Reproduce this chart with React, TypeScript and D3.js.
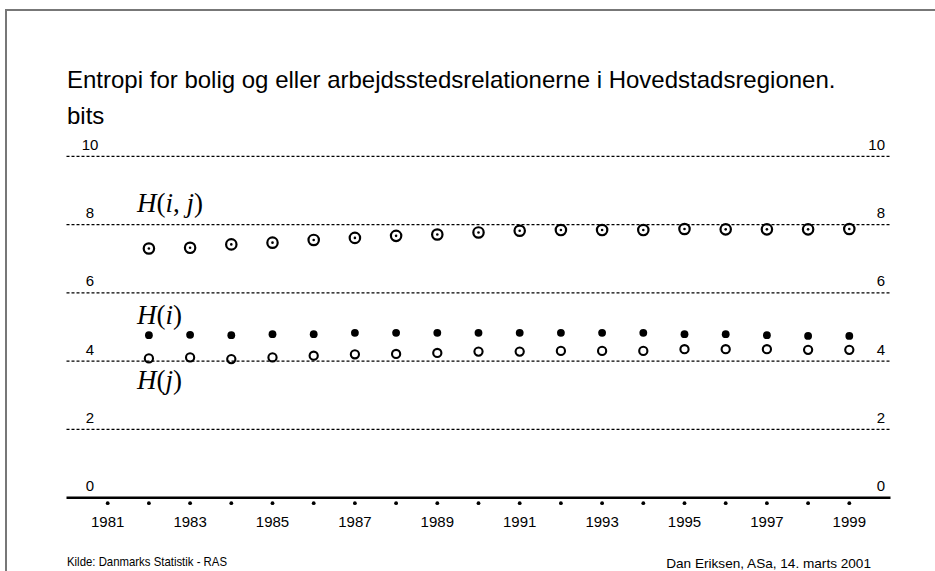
import React, { useEffect, useRef } from "react";
import * as d3 from "d3";

const years = [1982, 1983, 1984, 1985, 1986, 1987, 1988, 1989, 1990, 1991, 1992, 1993, 1994, 1995, 1996, 1997, 1998, 1999];
const hij = [7.30, 7.32, 7.42, 7.47, 7.55, 7.61, 7.67, 7.71, 7.77, 7.82, 7.84, 7.84, 7.84, 7.87, 7.86, 7.86, 7.86, 7.87];
const hi = [4.76, 4.77, 4.76, 4.79, 4.79, 4.83, 4.83, 4.83, 4.83, 4.83, 4.83, 4.83, 4.83, 4.79, 4.79, 4.76, 4.74, 4.74];
const hj = [4.08, 4.11, 4.06, 4.11, 4.16, 4.20, 4.21, 4.24, 4.28, 4.28, 4.30, 4.30, 4.30, 4.35, 4.35, 4.35, 4.33, 4.33];
const yTicks = [0, 2, 4, 6, 8, 10];
const xTickYears = [1981, 1982, 1983, 1984, 1985, 1986, 1987, 1988, 1989, 1990, 1991, 1992, 1993, 1994, 1995, 1996, 1997, 1998, 1999];
const xLabelYears = [1981, 1983, 1985, 1987, 1989, 1991, 1993, 1995, 1997, 1999];

const title = "Entropi for bolig og eller arbejdsstedsrelationerne i Hovedstadsregionen.";
const unit = "bits";
const source = "Kilde: Danmarks Statistik - RAS";
const author = "Dan Eriksen, ASa, 14. marts 2001";

export default function App() {
  const ref = useRef<SVGSVGElement>(null);
  useEffect(() => {
    const svg = d3.select(ref.current);
    svg.selectAll("*").remove();
    const W = 935, H = 571;
    const x = d3.scaleLinear().domain([1980, 2000]).range([66.5, 890.5]);
    const y = d3.scaleLinear().domain([0, 10]).range([497.7, 156.3]);
    const sans = "'Liberation Sans', Arial, sans-serif";
    const serif = "'Liberation Serif', 'DejaVu Serif', serif";

    svg.append("rect").attr("width", W).attr("height", H).attr("fill", "#fff");
    svg.append("rect").attr("x", 6).attr("y", 10).attr("width", 1000).attr("height", 1000)
      .attr("fill", "none").attr("stroke", "#777").attr("stroke-width", 2);

    svg.append("text").attr("x", 67).attr("y", 88).attr("font-family", sans).attr("font-size", 24)
      .attr("fill", "#000").text(title);
    svg.append("text").attr("x", 67).attr("y", 124).attr("font-family", sans).attr("font-size", 24)
      .attr("fill", "#000").text(unit);

    // grid lines
    const [x0, x1] = x.range();
    svg.append("g").selectAll("line").data(yTicks.filter(d => d !== 0)).join("line")
      .attr("x1", x0).attr("x2", x1).attr("y1", d => y(d)).attr("y2", d => y(d))
      .attr("stroke", "#000").attr("stroke-width", 1.2).attr("stroke-dasharray", "3,2");
    svg.append("line").attr("x1", x0).attr("x2", x1).attr("y1", y(0)).attr("y2", y(0))
      .attr("stroke", "#000").attr("stroke-width", 2.5);

    // y labels
    svg.append("g").selectAll("text").data(yTicks).join("text")
      .attr("x", 90).attr("y", d => y(d) - 6.5).attr("text-anchor", "middle")
      .attr("font-family", sans).attr("font-size", 15).text(d => String(d));
    svg.append("g").selectAll("text").data(yTicks).join("text")
      .attr("x", 885).attr("y", d => y(d) - 6.5).attr("text-anchor", "end")
      .attr("font-family", sans).attr("font-size", 15).text(d => String(d));

    // x ticks
    svg.append("g").selectAll("circle").data(xTickYears).join("circle")
      .attr("cx", d => x(d)).attr("cy", y(0) + 5.5).attr("r", 1.9).attr("fill", "#000");
    svg.append("g").selectAll("text").data(xLabelYears).join("text")
      .attr("x", d => x(d)).attr("y", y(0) + 29).attr("text-anchor", "middle")
      .attr("font-family", sans).attr("font-size", 15).text(d => String(d));

    // H(i,j)
    const g1 = svg.append("g");
    g1.selectAll("circle.ring").data(years).join("circle").attr("class", "ring")
      .attr("cx", d => x(d)).attr("cy", (d, i) => y(hij[i])).attr("r", 5.2)
      .attr("fill", "none").attr("stroke", "#000").attr("stroke-width", 2.2);
    g1.selectAll("circle.dot").data(years).join("circle").attr("class", "dot")
      .attr("cx", d => x(d)).attr("cy", (d, i) => y(hij[i])).attr("r", 1.3).attr("fill", "#000");
    // H(i)
    svg.append("g").selectAll("circle").data(years).join("circle")
      .attr("cx", d => x(d)).attr("cy", (d, i) => y(hi[i])).attr("r", 3.9).attr("fill", "#000");
    // H(j)
    svg.append("g").selectAll("circle").data(years).join("circle")
      .attr("cx", d => x(d)).attr("cy", (d, i) => y(hj[i])).attr("r", 4.1)
      .attr("fill", "none").attr("stroke", "#000").attr("stroke-width", 2.1);

    // math labels
    const mathLabel = (px: number, py: number, parts: [string, boolean][]) => {
      const t = svg.append("text").attr("x", px).attr("y", py).attr("font-family", serif).attr("font-size", 27);
      parts.forEach(([s, it]) => {
        t.append("tspan").attr("font-style", it ? "italic" : "normal").text(s);
      });
    };
    mathLabel(137, 212, [["H", true], ["(", false], ["i", true], [", ", false], ["j", true], [")", false]]);
    mathLabel(137, 324, [["H", true], ["(", false], ["i", true], [")", false]]);
    mathLabel(137, 389, [["H", true], ["(", false], ["j", true], [")", false]]);

    svg.append("text").attr("x", 67).attr("y", 566).attr("font-family", sans).attr("font-size", 13)
      .attr("textLength", 160).attr("lengthAdjust", "spacingAndGlyphs").text(source);
    svg.append("text").attr("x", 871).attr("y", 568).attr("text-anchor", "end").attr("font-family", sans).attr("font-size", 13.6).text(author);
  }, []);
  return <svg ref={ref} width={935} height={571} style={{ position: "absolute", left: 0, top: 0 }} />;
}
